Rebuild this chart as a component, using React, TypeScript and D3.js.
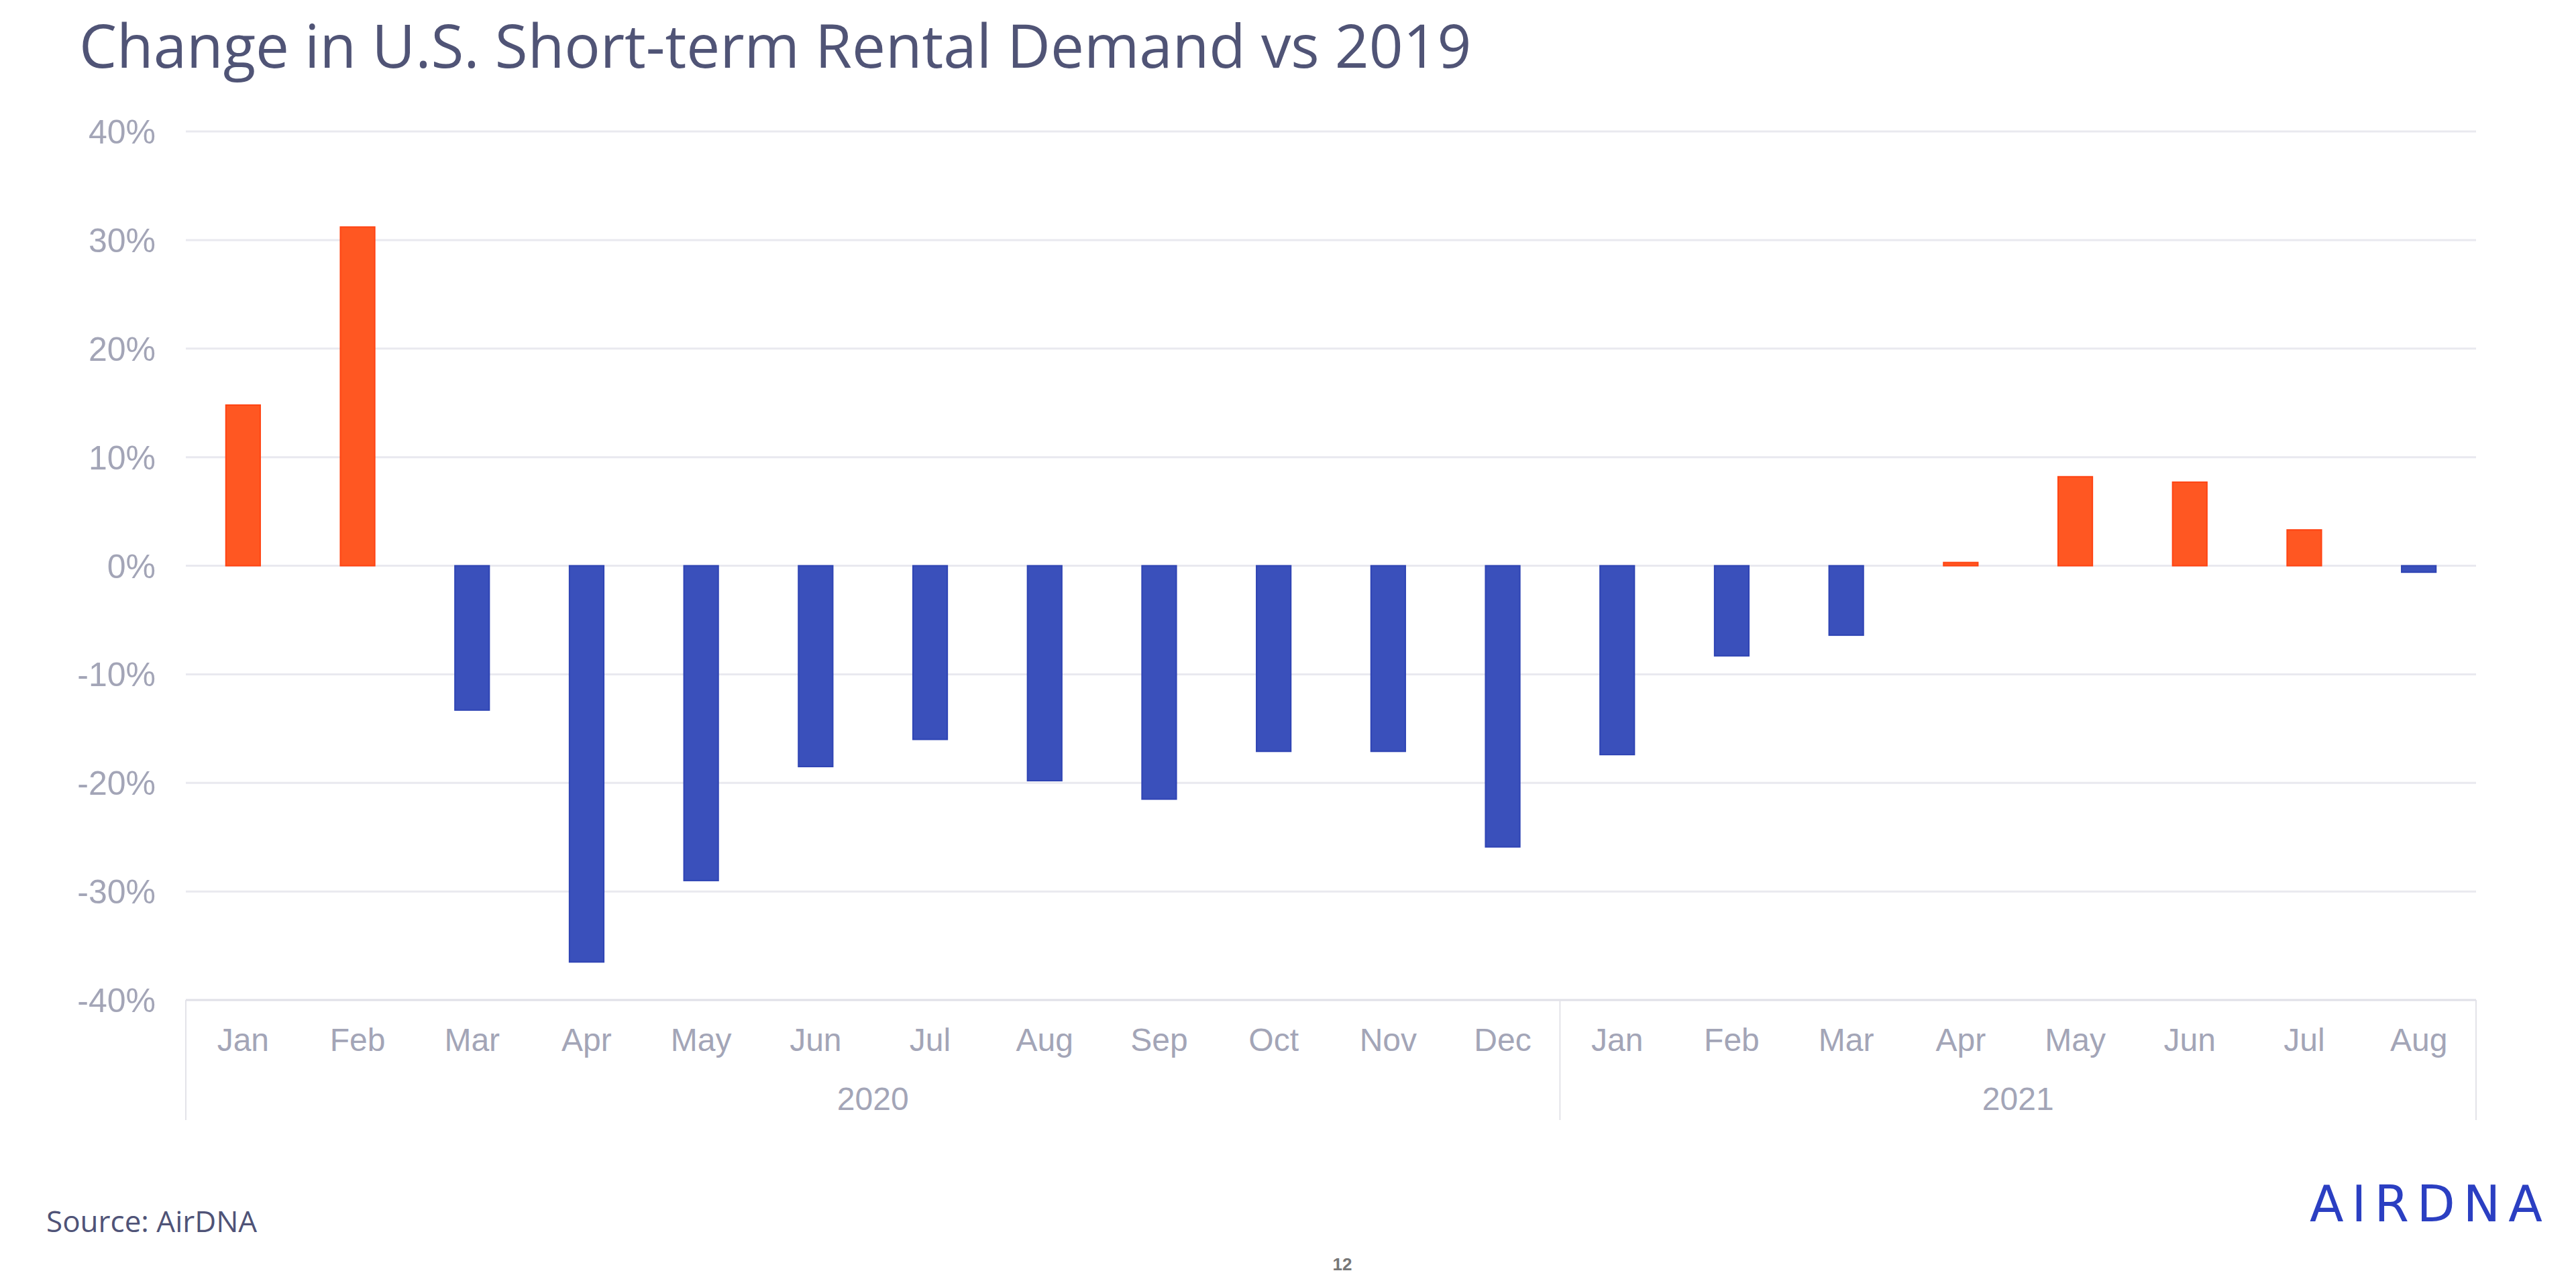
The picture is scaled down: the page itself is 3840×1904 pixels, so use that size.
import React from "react";
import * as d3 from "d3";

// monthly change in short-term rental demand vs 2019, in percent
const months = [
  "Jan", "Feb", "Mar", "Apr", "May", "Jun", "Jul", "Aug", "Sep", "Oct", "Nov", "Dec",
  "Jan", "Feb", "Mar", "Apr", "May", "Jun", "Jul", "Aug",
];
const changes = [
  14.8, 31.2, -13.3, -36.5, -29.0, -18.5, -16.0, -19.8, -21.5, -17.1, -17.1, -25.9,
  -17.4, -8.3, -6.4, 0.3, 8.2, 7.7, 3.3, -0.6,
];
const years = ["2020", "2021"];
const monthsPerYear = [12, 8];
const yTicks = [40, 30, 20, 10, 0, -10, -20, -30, -40];

const width = 3840;
const height = 1904;
const plot = { left: 277, right: 3691, top: 196, bottom: 1491 };

const orange = "#ff5722";
const blue = "#3a50bb";
const gridColor = "#e9e9ef";
const tickColor = "#a3a5b7";

export default function App() {
  const keys = months.map((m, i) => `${i}-${m}`);

  const x = d3.scaleBand<string>()
    .domain(keys)
    .range([plot.left, plot.right])
    .padding(0);

  const y = d3.scaleLinear()
    .domain([-40, 40])
    .range([plot.bottom, plot.top]);

  const barWidth = x.bandwidth() * 0.3;

  // year groups along the bottom axis
  let start = 0;
  const groups = years.map((label, i) => {
    const first = keys[start];
    const last = keys[start + monthsPerYear[i] - 1];
    start += monthsPerYear[i];
    return { label, x0: x(first)!, x1: x(last)! + x.bandwidth() };
  });

  return (
    <svg
      width={width}
      height={height}
      style={{ position: "absolute", left: 0, top: 0, display: "block", background: "#fff" }}
    >
      <text
        x={118}
        y={101}
        fontFamily="Open Sans"
        fontSize={89}
        fill="#505476"
      >
        Change in U.S. Short-term Rental Demand vs 2019
      </text>

      {/* gridlines and y labels */}
      {yTicks.map((t) => (
        <g key={t}>
          <line
            x1={plot.left}
            x2={plot.right}
            y1={y(t)}
            y2={y(t)}
            stroke={t === -40 ? "#e0e0e7" : gridColor}
            strokeWidth={3}
          />
          <text
            x={232}
            y={y(t)}
            dy="0.36em"
            textAnchor="end"
            fontFamily="Liberation Sans"
            fontSize={50}
            fill={tickColor}
          >
            {`${t}%`}
          </text>
        </g>
      ))}

      {/* bars */}
      {changes.map((v, i) => {
        const cx = x(keys[i])! + x.bandwidth() / 2;
        const y0 = y(Math.max(0, v));
        const y1 = y(Math.min(0, v));
        const pos = v >= 0;
        return (
          <rect
            key={keys[i]}
            x={cx - barWidth / 2}
            y={y0}
            width={barWidth}
            height={Math.max(1, y1 - y0)}
            fill={pos ? orange : blue}
            stroke={pos ? "#ff4413" : "#2f44b4"}
            strokeWidth={2}
          />
        );
      })}

      {/* month labels */}
      {months.map((m, i) => (
        <text
          key={keys[i]}
          x={x(keys[i])! + x.bandwidth() / 2}
          y={1567}
          textAnchor="middle"
          fontFamily="Liberation Sans"
          fontSize={48}
          fill={tickColor}
        >
          {m}
        </text>
      ))}

      {/* year separators and labels */}
      {[groups[0].x0, ...groups.map((g) => g.x1)].map((sx, i) => (
        <line
          key={`sep-${i}`}
          x1={sx}
          x2={sx}
          y1={plot.bottom}
          y2={1670}
          stroke="#e3e3e9"
          strokeWidth={2}
        />
      ))}
      {groups.map((g) => (
        <text
          key={g.label}
          x={(g.x0 + g.x1) / 2}
          y={1655}
          textAnchor="middle"
          fontFamily="Liberation Sans"
          fontSize={48}
          fill={tickColor}
        >
          {g.label}
        </text>
      ))}

      <text x={69} y={1837} fontFamily="Open Sans" fontSize={44} fill="#4f5377">
        Source: AirDNA
      </text>

      <text
        x={3443}
        y={1821}
        fontFamily="DejaVu Sans"
        fontSize={74}
        letterSpacing={12}
        fill="#2b3fc2"
      >
        AIRDNA
      </text>

      <text
        x={2001}
        y={1894}
        textAnchor="middle"
        fontFamily="Liberation Sans"
        fontWeight="bold"
        fontSize={26}
        fill="#777"
      >
        12
      </text>
    </svg>
  );
}
